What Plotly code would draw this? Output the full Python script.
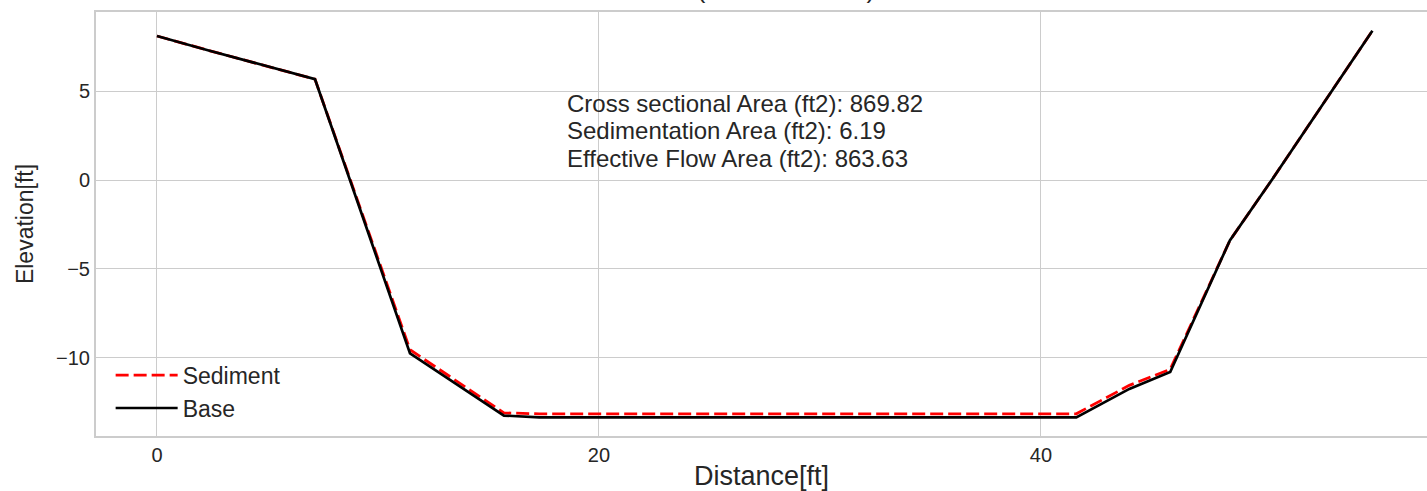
import plotly.graph_objects as go

# cross section points
base_x = [0, 2.3, 7.15, 11.45, 15.7, 17.3, 41.6, 44.0, 45.85, 48.55, 50.5, 55.0]
base_y = [8.1, 7.3, 5.67, -9.75, -13.25, -13.35, -13.35, -11.75, -10.8, -3.4, 0.1, 8.4]
sed_x = [0, 2.3, 7.15, 11.45, 15.7, 17.3, 41.6, 44.0, 45.85, 48.55, 50.5, 55.0]
sed_y = [8.1, 7.3, 5.67, -9.55, -13.1, -13.15, -13.15, -11.55, -10.65, -3.4, 0.1, 8.4]

info_lines = [
    "Cross sectional Area (ft2): 869.82",
    "Sedimentation Area (ft2): 6.19",
    "Effective Flow Area (ft2): 863.63",
]
title_text = "Structure (Station 10+00)"

FONT = "Liberation Sans, Arial, sans-serif"
GRID = "#cccccc"
TXT = "#262626"

fig = go.Figure()
fig.add_trace(go.Scatter(x=sed_x, y=sed_y, name="Sediment", mode="lines",
                         line=dict(color="red", width=2.8, dash="13px,5px")))
fig.add_trace(go.Scatter(x=base_x, y=base_y, name="Base", mode="lines",
                         line=dict(color="black", width=2.7)))

# text box, one annotation per line
for i, t in enumerate(info_lines):
    fig.add_annotation(x=18.5, y=4.31 - 1.548 * i, xref="x", yref="y", text=t,
                       showarrow=False, xanchor="left", yanchor="middle",
                       borderpad=0,
                       font=dict(family=FONT, size=24, color=TXT))

# title, mostly cropped off the top of the page like in the source image
fig.add_annotation(x=0.476, y=1.0142, xref="paper", yref="paper", text=title_text,
                   showarrow=False, xanchor="center", yanchor="bottom",
                   font=dict(family=FONT, size=26, color=TXT))

fig.update_layout(
    width=1427, height=491,
    margin=dict(l=96, r=0, t=12, b=55),
    paper_bgcolor="white", plot_bgcolor="white",
    font=dict(family=FONT, color=TXT),
    showlegend=True,
    legend=dict(x=0.011, y=0.015, xanchor="left", yanchor="bottom",
                bgcolor="rgba(0,0,0,0)", font=dict(size=23, color=TXT),
                itemwidth=62, tracegroupgap=0),
    xaxis=dict(range=[-2.76, 57.47], tickvals=[0, 20, 40],
               title=dict(text="Distance[ft]", font=dict(size=27), standoff=6),
               showgrid=True, gridcolor=GRID, gridwidth=1.3, zeroline=False,
               showline=True, linecolor=GRID, linewidth=2, mirror=True,
               ticks="", tickfont=dict(size=20)),
    yaxis=dict(range=[-14.4, 9.45], tickvals=[-10, -5, 0, 5],
               title=dict(text="Elevation[ft]", font=dict(size=23), standoff=16),
               showgrid=True, gridcolor=GRID, gridwidth=1.3, zeroline=False,
               showline=True, linecolor=GRID, linewidth=2, mirror=False,
               ticks="", tickfont=dict(size=20)),
)

# drop the default page margin so the figure sits at the window's corner
fig.write_html("out.html", config={"displayModeBar": False},
               post_script="document.body.style.margin='0';")
